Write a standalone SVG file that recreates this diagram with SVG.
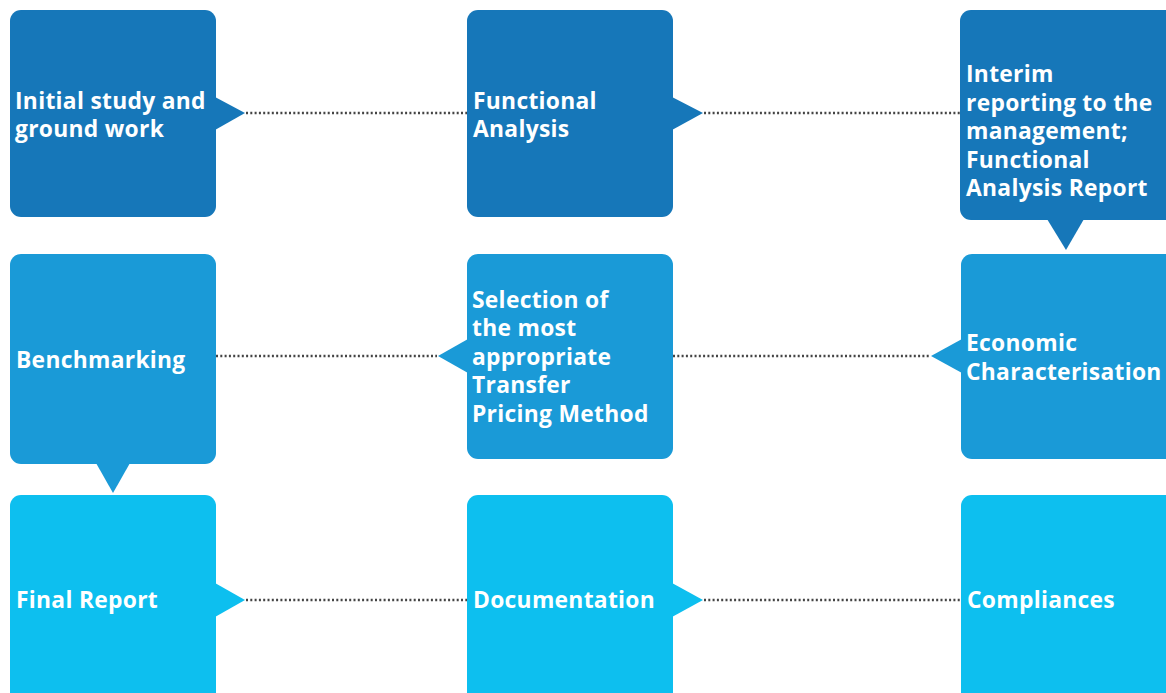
<svg xmlns="http://www.w3.org/2000/svg" width="1166" height="693" viewBox="0 0 1166 693">
<style>
.r1{fill:#1677B9}
.r2{fill:#1A9AD7}
.r3{fill:#0DBFEF}
text{font-family:"Open Sans","Noto Sans","Liberation Sans",sans-serif;font-weight:700;font-size:22.8px;letter-spacing:0.3px;fill:#ffffff}
.dot{stroke:#444444;stroke-width:2.4;stroke-dasharray:2 2.3;fill:none}
</style>
<rect width="1166" height="693" fill="#ffffff"/>
<g id="connectors">
<line class="dot" x1="246" y1="113" x2="467" y2="113"/>
<line class="dot" x1="704" y1="113" x2="960" y2="113"/>
<line class="dot" x1="216" y1="356" x2="437" y2="356"/>
<line class="dot" x1="673" y1="356" x2="930" y2="356"/>
<line class="dot" x1="246" y1="600" x2="467" y2="600"/>
<line class="dot" x1="704" y1="600" x2="961" y2="600"/>
</g>
<g id="n1">
<rect class="r1" x="10" y="10" width="206" height="207" rx="11"/>
<polygon class="r1" points="215,97 245,113 215,130"/>
<text x="15" y="109">Initial study and</text>
<text x="15" y="137">ground work</text>
</g>
<g id="n2">
<rect class="r1" x="467" y="10" width="206" height="207" rx="11"/>
<polygon class="r1" points="672,97 703,113 672,130"/>
<text x="473" y="109">Functional</text>
<text x="473" y="137">Analysis</text>
</g>
<g id="n3">
<rect class="r1" x="960" y="10" width="217" height="210" rx="11"/>
<polygon class="r1" points="1047,219 1084,219 1066,250"/>
<text x="966" y="82">Interim</text>
<text x="966" y="110.5">reporting to the</text>
<text x="966" y="139">management;</text>
<text x="966" y="167.5">Functional</text>
<text x="966" y="196">Analysis Report</text>
</g>
<g id="n4">
<rect class="r2" x="10" y="254" width="206" height="210" rx="11"/>
<polygon class="r2" points="96,463 130,463 113,493"/>
<text x="16" y="368">Benchmarking</text>
</g>
<g id="n5">
<rect class="r2" x="467" y="254" width="206" height="205" rx="11"/>
<polygon class="r2" points="468,339 438,356 468,373"/>
<text x="472" y="307.5">Selection of</text>
<text x="472" y="336">the most</text>
<text x="472" y="364.5">appropriate</text>
<text x="472" y="393">Transfer</text>
<text x="472" y="421.5">Pricing Method</text>
</g>
<g id="n6">
<rect class="r2" x="961" y="254" width="216" height="205" rx="11"/>
<polygon class="r2" points="962,339 931,356 962,373"/>
<text x="966" y="351">Economic</text>
<text x="966" y="380">Characterisation</text>
</g>
<g id="n7">
<rect class="r3" x="10" y="495" width="206" height="210" rx="11"/>
<polygon class="r3" points="215,583 245,600 215,617"/>
<text x="16" y="608">Final Report</text>
</g>
<g id="n8">
<rect class="r3" x="467" y="495" width="206" height="210" rx="11"/>
<polygon class="r3" points="672,583 703,600 672,617"/>
<text x="473" y="608">Documentation</text>
</g>
<g id="n9">
<rect class="r3" x="961" y="495" width="216" height="210" rx="11"/>
<text x="967" y="608">Compliances</text>
</g>
</svg>
